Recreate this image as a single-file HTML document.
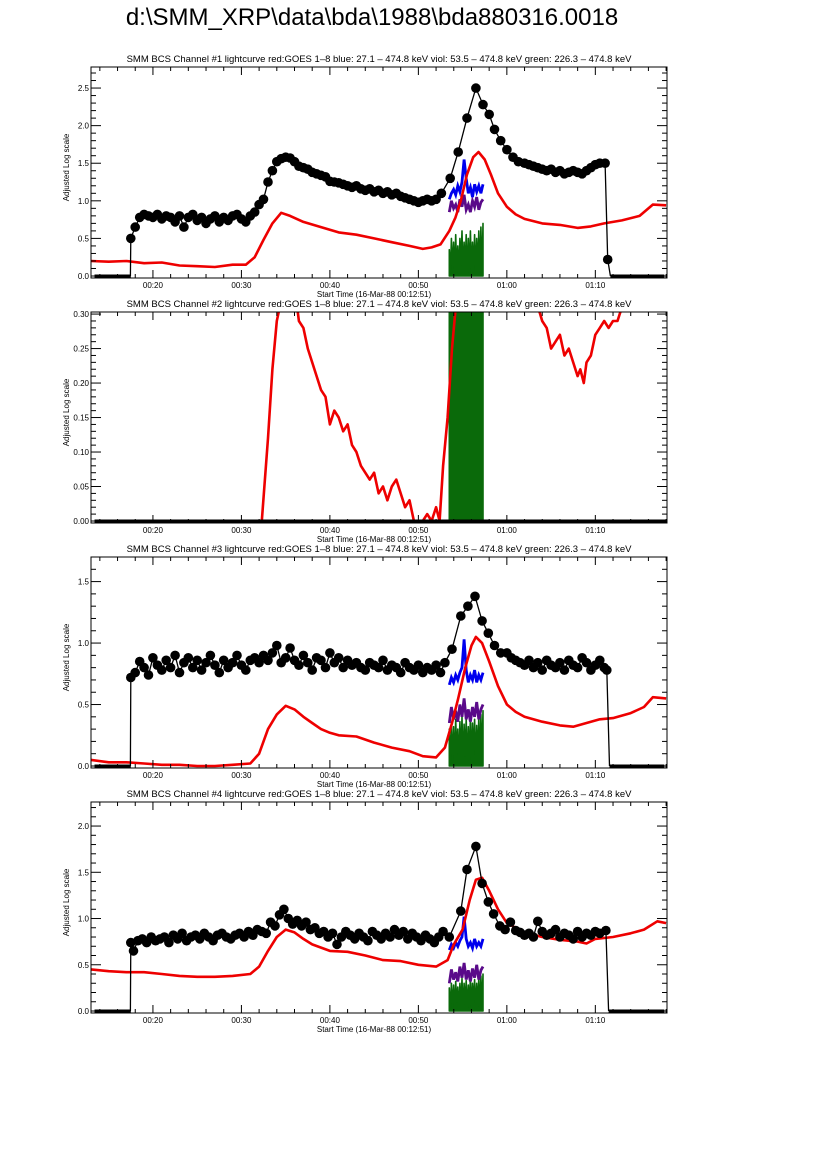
<!DOCTYPE html>
<html><head><meta charset="utf-8">
<style>
html,body{margin:0;padding:0;background:#fff;}
body{width:826px;height:1169px;position:relative;overflow:hidden;font-family:"Liberation Sans",sans-serif;}
#main-title{position:absolute;left:0;width:744px;top:4px;text-align:center;font-size:24px;color:#000;}
svg{position:absolute;left:0;top:0;}
</style></head>
<body>
<div id="main-title">d:\SMM_XRP\data\bda\1988\bda880316.0018</div>
<svg id="chart" width="826" height="1169"></svg>
<script>
// ---- shared axis data ----
const xTickMinutes = [20,30,40,50,60,70];
const xTickLabels = ["00:20","00:30","00:40","00:50","01:00","01:10"];
const panelTitles = [
 "SMM BCS Channel #1 lightcurve  red:GOES 1\u20138  blue: 27.1 \u2013 474.8 keV  viol: 53.5 \u2013 474.8 keV  green: 226.3 \u2013 474.8 keV",
 "SMM BCS Channel #2 lightcurve  red:GOES 1\u20138  blue: 27.1 \u2013 474.8 keV  viol: 53.5 \u2013 474.8 keV  green: 226.3 \u2013 474.8 keV",
 "SMM BCS Channel #3 lightcurve  red:GOES 1\u20138  blue: 27.1 \u2013 474.8 keV  viol: 53.5 \u2013 474.8 keV  green: 226.3 \u2013 474.8 keV",
 "SMM BCS Channel #4 lightcurve  red:GOES 1\u20138  blue: 27.1 \u2013 474.8 keV  viol: 53.5 \u2013 474.8 keV  green: 226.3 \u2013 474.8 keV"];
const yMaxes = [2.78, 0.303, 1.70, 2.26];
const yMajorSteps = [0.5, 0.05, 0.5, 0.5];
const yMinorSteps = [0.1, 0.01, 0.1, 0.1];
const yDecimals = [1, 2, 1, 1];

// ---- channel 1 ----
const ch1DotT = [17.5,18,18.5,19,19.5,20,20.5,21,21.5,22,22.5,23,23.5,24,24.5,25,25.5,26,26.5,27,27.5,28,28.5,29,29.5,30,30.5,31,31.5,32,32.5,33,33.5,34,34.5,35,35.5,36,36.5,37,37.5,38,38.5,39,39.5,40,40.5,41,41.5,42,42.5,43,43.5,44,44.5,45,45.5,46,46.5,47,47.5,48,48.5,49,49.5,50,50.5,51,51.5,52,52.6,53.6,54.5,55.5,56.5,57.3,58,58.6,59.3,60,60.7,61.3,62,62.5,63,63.5,64,64.5,65,65.5,66,66.5,67,67.5,68,68.5,69,69.5,70,70.5,71.1,71.4];
const ch1DotV = [0.50,0.65,0.78,0.82,0.80,0.78,0.82,0.76,0.80,0.78,0.72,0.80,0.65,0.78,0.82,0.74,0.78,0.70,0.76,0.80,0.72,0.78,0.74,0.80,0.82,0.76,0.72,0.80,0.85,0.95,1.02,1.25,1.40,1.52,1.56,1.58,1.57,1.52,1.46,1.44,1.42,1.38,1.36,1.34,1.32,1.26,1.25,1.24,1.22,1.20,1.18,1.20,1.16,1.14,1.16,1.12,1.14,1.10,1.12,1.08,1.10,1.06,1.04,1.02,1.00,0.98,1.00,1.02,1.00,1.02,1.10,1.30,1.65,2.10,2.50,2.28,2.15,1.95,1.80,1.68,1.58,1.52,1.50,1.48,1.46,1.44,1.42,1.40,1.42,1.38,1.40,1.36,1.38,1.40,1.38,1.36,1.40,1.44,1.48,1.50,1.50,0.22];
const ch1RedT = [13,15,17,19,21,23,25,27,29,30.5,31.5,32.5,33.5,34.5,35.5,37,39,41,43,45,47,49,50.5,51.5,52.5,53.5,54.2,54.8,55.5,56.2,56.8,57.5,58.2,59,60,61,62,64,66,68,69.5,71,73,75,76.5,78];
const ch1RedV = [0.20,0.19,0.20,0.17,0.18,0.14,0.13,0.12,0.15,0.15,0.25,0.48,0.70,0.84,0.80,0.72,0.65,0.58,0.55,0.50,0.45,0.40,0.36,0.38,0.42,0.60,0.78,1.00,1.35,1.58,1.65,1.55,1.35,1.10,0.92,0.82,0.76,0.70,0.68,0.64,0.66,0.70,0.74,0.80,0.95,0.94];
const ch1Blue = [1.02,1.10,1.15,1.08,1.20,1.12,1.25,1.55,1.30,1.10,1.18,1.05,1.22,1.12,1.20,1.10,1.22];
const ch1Viol = [0.85,1.00,0.90,0.95,0.85,1.02,0.92,1.08,0.88,0.95,0.85,1.00,0.92,1.05,0.88,0.98,1.02];
const ch1Green = [0.35,0.0,0.50,0.10,0.45,0.0,0.55,0.05,0.40,0.0,0.50,0.15,0.60,0.0,0.45,0.10,0.55,0.0,0.50,0.05,0.60,0.0,0.45,0.10,0.55,0.0,0.50,0.10,0.60,0.05,0.65,0.0,0.70];

// ---- channel 2 ----
const ch2DotT = [13.5,78];
const ch2DotV = [0,0];
const ch2RedT = [32.3,33,33.5,34,34.5,36.2,36.5,37,37.5,38,38.5,39,39.5,40,40.5,41,41.5,42,42.5,43,43.5,44,44.5,45,45.5,46,46.5,47,47.5,48,48.5,49,49.5,50.5,51,51.5,52,52.4,52.8,53.3,53.8,54.5,63.3,64,64.5,65,65.5,66,66.5,67,67.5,68,68.3,68.7,69,69.5,70,70.5,71,71.5,72,72.5,73];
const ch2RedV = [0,0.12,0.22,0.29,0.32,0.32,0.29,0.28,0.25,0.23,0.21,0.19,0.18,0.14,0.16,0.15,0.13,0.14,0.11,0.10,0.08,0.07,0.06,0.07,0.04,0.05,0.03,0.05,0.06,0.04,0.02,0.03,0.0,0.0,0.01,0.0,0.02,0.0,0.08,0.15,0.25,0.35,0.32,0.29,0.28,0.25,0.26,0.27,0.24,0.25,0.23,0.21,0.22,0.20,0.23,0.24,0.27,0.28,0.29,0.28,0.29,0.29,0.31];
const ch2Blue = [];
const ch2Viol = [];
const ch2Green = [0.40,0.0,0.40,0.40,0.40,0.0,0.40,0.40,0.40,0.40,0.0,0.40,0.40,0.40,0.0,0.40,0.40,0.40,0.40,0.0,0.40,0.40,0.40,0.05,0.40,0.40,0.40,0.40,0.02,0.40,0.40,0.40,0.40];

// ---- channel 3 ----
const ch3DotT = [17.5,18,18.5,19,19.5,20,20.5,21,21.5,22,22.5,23,23.5,24,24.5,25,25.5,26,26.5,27,27.5,28,28.5,29,29.5,30,30.5,31,31.5,32,32.5,33,33.5,34,34.5,35,35.5,36,36.5,37,37.5,38,38.5,39,39.5,40,40.5,41,41.5,42,42.5,43,43.5,44,44.5,45,45.5,46,46.5,47,47.5,48,48.5,49,49.5,50,50.5,51,51.5,52,52.5,53,53.8,54.8,55.6,56.4,57.2,57.9,58.6,59.3,60,60.5,61,61.5,62,62.5,63,63.5,64,64.5,65,65.5,66,66.5,67,67.5,68,68.5,69,69.5,70,70.5,71,71.3];
const ch3DotV = [0.72,0.76,0.85,0.80,0.74,0.88,0.82,0.78,0.86,0.80,0.90,0.76,0.84,0.88,0.80,0.86,0.78,0.84,0.90,0.82,0.76,0.86,0.80,0.84,0.90,0.82,0.78,0.86,0.88,0.84,0.90,0.86,0.92,0.98,0.84,0.88,0.96,0.86,0.82,0.90,0.84,0.78,0.88,0.86,0.80,0.92,0.84,0.88,0.80,0.86,0.82,0.84,0.80,0.78,0.84,0.82,0.80,0.86,0.78,0.82,0.80,0.76,0.84,0.80,0.78,0.82,0.76,0.80,0.78,0.82,0.76,0.84,0.95,1.22,1.30,1.38,1.18,1.08,0.98,0.92,0.92,0.88,0.86,0.84,0.82,0.86,0.80,0.84,0.78,0.86,0.82,0.80,0.84,0.78,0.86,0.82,0.80,0.88,0.84,0.78,0.82,0.86,0.80,0.78,0.97,0.88];
const ch3RedT = [13,15,17,19,21,23,25,27,29,31,32,33,34,35,36,37,38,39,40,41,43,45,47,49,50.5,52,53,53.8,54.5,55.3,56,56.5,57.2,58,59,60,61,62,64,66,67.5,69,70.5,72,74,75.5,76.5,78];
const ch3RedV = [0.05,0.03,0.03,0.02,0.01,0.01,0.00,0.00,0.01,0.02,0.10,0.30,0.42,0.49,0.46,0.40,0.35,0.30,0.27,0.25,0.24,0.19,0.15,0.12,0.08,0.07,0.15,0.35,0.55,0.80,0.98,1.05,1.00,0.85,0.65,0.50,0.44,0.40,0.36,0.33,0.32,0.35,0.38,0.39,0.43,0.48,0.56,0.55];
const ch3Blue = [0.66,0.72,0.68,0.74,0.70,0.76,0.80,1.03,0.78,0.68,0.74,0.70,0.78,0.68,0.74,0.70,0.76];
const ch3Viol = [0.35,0.48,0.38,0.45,0.36,0.50,0.40,0.55,0.38,0.46,0.36,0.48,0.40,0.52,0.38,0.46,0.50];
const ch3Green = [0.30,0.0,0.35,0.05,0.32,0.0,0.38,0.10,0.30,0.0,0.36,0.05,0.40,0.0,0.34,0.08,0.38,0.0,0.32,0.05,0.40,0.0,0.35,0.10,0.38,0.0,0.33,0.06,0.40,0.0,0.42,0.05,0.45];

// ---- channel 4 ----
const ch4DotT = [17.5,17.8,18.3,18.8,19.3,19.8,20.3,20.8,21.3,21.8,22.3,22.8,23.3,23.8,24.3,24.8,25.3,25.8,26.3,26.8,27.3,27.8,28.3,28.8,29.3,29.8,30.3,30.8,31.3,31.8,32.3,32.8,33.3,33.8,34.3,34.8,35.3,35.8,36.3,36.8,37.3,37.8,38.3,38.8,39.3,39.8,40.3,40.8,41.3,41.8,42.3,42.8,43.3,43.8,44.3,44.8,45.3,45.8,46.3,46.8,47.3,47.8,48.3,48.8,49.3,49.8,50.3,50.8,51.3,51.8,52.3,52.8,53.5,54.8,55.5,56.5,57.2,57.9,58.5,59.2,59.8,60.4,61,61.5,62,62.5,63,63.5,64,64.5,65,65.5,66,66.5,67,67.5,68,68.5,69,69.5,70,70.5,71.2];
const ch4DotV = [0.74,0.65,0.76,0.78,0.74,0.80,0.76,0.78,0.80,0.74,0.82,0.78,0.84,0.76,0.80,0.82,0.78,0.84,0.80,0.76,0.82,0.84,0.80,0.78,0.82,0.84,0.80,0.86,0.82,0.88,0.86,0.84,0.96,0.92,1.04,1.10,1.00,0.94,0.98,0.92,0.96,0.88,0.90,0.84,0.86,0.80,0.84,0.72,0.80,0.86,0.82,0.78,0.84,0.80,0.76,0.86,0.82,0.78,0.84,0.80,0.88,0.82,0.86,0.78,0.84,0.80,0.76,0.82,0.78,0.74,0.80,0.86,0.80,1.08,1.53,1.78,1.38,1.18,1.05,0.92,0.88,0.96,0.87,0.85,0.82,0.84,0.80,0.97,0.86,0.82,0.84,0.88,0.80,0.84,0.82,0.78,0.86,0.80,0.84,0.82,0.86,0.84,0.87];
const ch4RedT = [13,15,17,19,21,23,25,27,29,31,32,33,34,35,36,37,38,40,42,44,46,48,50,52,53.3,54,55,55.8,56.5,57.2,58,59,60,62,64,66,68,69,70,72,74,75.5,77,78];
const ch4RedV = [0.45,0.43,0.42,0.42,0.40,0.38,0.37,0.37,0.38,0.40,0.48,0.65,0.80,0.88,0.85,0.78,0.72,0.65,0.64,0.60,0.55,0.54,0.50,0.48,0.55,0.72,0.88,1.20,1.42,1.44,1.30,1.10,0.95,0.85,0.80,0.77,0.75,0.73,0.78,0.80,0.84,0.88,0.97,0.95];
const ch4Blue = [0.66,0.72,0.68,0.74,0.70,0.76,0.80,1.02,0.78,0.70,0.74,0.68,0.78,0.70,0.74,0.70,0.78];
const ch4Viol = [0.30,0.45,0.34,0.42,0.32,0.48,0.36,0.52,0.34,0.44,0.32,0.46,0.36,0.50,0.34,0.44,0.48];
const ch4Green = [0.25,0.0,0.30,0.05,0.28,0.0,0.32,0.10,0.26,0.0,0.30,0.05,0.35,0.0,0.30,0.08,0.33,0.0,0.28,0.05,0.36,0.0,0.30,0.10,0.34,0.0,0.30,0.06,0.36,0.0,0.38,0.05,0.40];

const dotTs=[ch1DotT,ch2DotT,ch3DotT,ch4DotT], dotVs=[ch1DotV,ch2DotV,ch3DotV,ch4DotV];
const redTs=[ch1RedT,ch2RedT,ch3RedT,ch4RedT], redVs=[ch1RedV,ch2RedV,ch3RedV,ch4RedV];
const blues=[ch1Blue,ch2Blue,ch3Blue,ch4Blue], viols=[ch1Viol,ch2Viol,ch3Viol,ch4Viol], greens=[ch1Green,ch2Green,ch3Green,ch4Green];

// ---- layout ----
const NS="http://www.w3.org/2000/svg";
const svg=document.getElementById('chart');
const X0=91, X1=667, T0=13.0, T1=78.1;
const panelTops=[67,312,557,802], PH=211;
function xs(t){return X0+(t-T0)/(T1-T0)*(X1-X0);}
function mk(tag,attrs,parent){const e=document.createElementNS(NS,tag);for(const k in attrs)e.setAttribute(k,attrs[k]);(parent||svg).appendChild(e);return e;}

for(let p=0;p<4;p++){
  const top=panelTops[p], bot=top+PH, y0=bot-2;
  const ymax=yMaxes[p];
  const ys=v=>y0-(v/ymax)*(y0-top);
  const g=mk('g',{});
  
  
  const cp=mk('clipPath',{id:'clip'+p},g);
  mk('rect',{x:X0,y:top,width:X1-X0,height:PH},cp);
  const title=mk('text',{x:(X0+X1)/2,y:top-5,'text-anchor':'middle','font-size':'9.5','font-family':'Liberation Sans, sans-serif','xml:space':'preserve'},g);
  title.textContent=panelTitles[p];
  
  
  const data=mk('g',{'clip-path':'url(#clip'+p+')'},g);
  // green
  const gr=greens[p];
  if(gr.length){
    let pts=xs(53.5).toFixed(1)+','+ys(0).toFixed(1)+' ';
    pts+=gr.map((v,i)=>xs(53.5+i*0.119).toFixed(1)+','+ys(v).toFixed(1)).join(' ');
    pts+=' '+xs(53.5+(gr.length-1)*0.119).toFixed(1)+','+ys(0).toFixed(1);
    const pl=mk('polygon',{points:pts,fill:'#0a6a0a',stroke:'#0a6a0a','stroke-width':'1.6','stroke-linejoin':'round'},data);
    
    
  }
  [[viols[p],'#5a0a8a','violet-series'],[blues[p],'#0000ee','blue-series']].forEach(([arr,col,nm])=>{
    if(!arr.length)return;
    const pts=arr.map((v,i)=>xs(53.5+i*0.238).toFixed(1)+','+ys(v).toFixed(1)).join(' ');
    const pl=mk('polyline',{points:pts,fill:'none',stroke:col,'stroke-width':'2.8'},data);
    
    
  });
  // red
  const rpts=redTs[p].map((t,i)=>xs(t).toFixed(1)+','+ys(redVs[p][i]).toFixed(1)).join(' ');
  const rl=mk('polyline',{points:rpts,fill:'none',stroke:'#ee0000','stroke-width':'2.6','stroke-linejoin':'round'},data);
  
  
  // black zero segments
  if(p===1){
    const z=mk('line',{x1:xs(13.4),x2:xs(78),y1:ys(0),y2:ys(0),stroke:'#000','stroke-width':'3'},data);
    
    
  } else {
    const dt=dotTs[p], dv=dotVs[p];
    const z1=mk('line',{x1:xs(13.4),x2:xs(dt[0]),y1:ys(0),y2:ys(0),stroke:'#000','stroke-width':'3'},data);
    
    
    const z2=mk('line',{x1:xs(dt[dt.length-1]+0.3),x2:xs(77.8),y1:ys(0),y2:ys(0),stroke:'#000','stroke-width':'3'},data);
    
    
    let pts=xs(dt[0]-0.05).toFixed(1)+','+ys(0).toFixed(1)+' ';
    pts+=dt.map((t,i)=>xs(t).toFixed(1)+','+ys(dv[i]).toFixed(1)).join(' ');
    pts+=' '+xs(dt[dt.length-1]+0.3).toFixed(1)+','+ys(0).toFixed(1);
    const bl=mk('polyline',{points:pts,fill:'none',stroke:'#000','stroke-width':'1.3'},data);
    
    
    dt.forEach((t,i)=>{
      const c=mk('circle',{cx:xs(t).toFixed(1),cy:ys(dv[i]).toFixed(1),r:'4.8',fill:'#000'},data);
      
      
    });
  }
  // frame
  const fr=mk('rect',{x:X0,y:top,width:X1-X0,height:PH,fill:'none',stroke:'#000','stroke-width':'1'},g);
  
  
  // x ticks
  for(let m=14;m<=78;m+=2){
    const major=(m%10===0), L=major?8:4, x=xs(m);
    mk('line',{x1:x,x2:x,y1:bot,y2:bot-L,stroke:'#000','stroke-width':'1'},g);
    mk('line',{x1:x,x2:x,y1:top,y2:top+L,stroke:'#000','stroke-width':'1'},g);
  }
  xTickMinutes.forEach((m,i)=>{
    const tl=mk('text',{x:xs(m),y:bot+10,'text-anchor':'middle','font-size':'8','font-family':'Liberation Sans, sans-serif'},g);
    tl.textContent=xTickLabels[i];
    
    
  });
  const xt=mk('text',{x:(X0+X1)/2-5,y:bot+19,'text-anchor':'middle','font-size':'8','font-family':'Liberation Sans, sans-serif'},g);
  xt.textContent='Start Time (16-Mar-88 00:12:51)';
  
  
  // y ticks
  const mn=yMinorSteps[p], mj=yMajorSteps[p];
  for(let k=0;k*mn<=ymax+1e-9;k++){
    const v=k*mn, y=ys(v);
    const major=Math.abs(v/mj-Math.round(v/mj))<1e-6, L=major?10:5;
    mk('line',{x1:X0,x2:X0+L,y1:y,y2:y,stroke:'#000','stroke-width':'1'},g);
    mk('line',{x1:X1,x2:X1-L,y1:y,y2:y,stroke:'#000','stroke-width':'1'},g);
    if(major){
      const yl=mk('text',{x:X0-2,y:y+3,'text-anchor':'end','font-size':'8','font-family':'Liberation Sans, sans-serif'},g);
      yl.textContent=v.toFixed(yDecimals[p]);
      
      
    }
  }
  const yt=mk('text',{x:0,y:0,'text-anchor':'middle','font-size':'8','font-family':'Liberation Sans, sans-serif',transform:'translate(69,'+(top+PH/2-5)+') rotate(-90)'},g);
  yt.textContent='Adjusted Log scale';
  
  
}
</script>
</body></html>
